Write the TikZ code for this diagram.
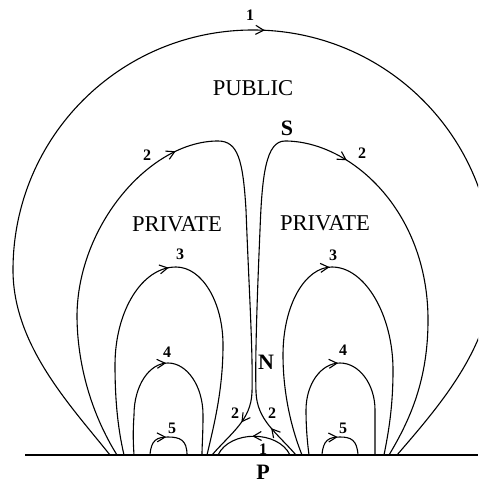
\documentclass[tikz,border=0pt]{standalone}
\usepackage{fontspec}
\setmainfont{Liberation Serif}
\usetikzlibrary{arrows.meta,decorations.markings}

\begin{document}
\begin{tikzpicture}[
    x=0.5pt, y=-0.5pt,
    fline/.style={line width=0.55pt},
    flow/.style={postaction={decorate, decoration={markings,
        mark=at position #1 with {\arrow{Straight Barb[length=4pt,width=4.5pt]}}}}},
    foot/.style={line width=1.4pt},
    region/.style={font=\fontsize{11.3}{13}\selectfont},
    ptlbl/.style={font=\fontsize{11}{13}\selectfont\bfseries},
    num/.style={font=\fontsize{8}{9}\selectfont\bfseries, inner sep=0pt}
]
\useasboundingbox (0,0) rectangle (478,485);
\clip (0,0) rectangle (478,485);

% Photosphere with the footpoint patches
\draw[fline] (25,455) -- (478,455);
\draw[foot] (110,455) -- (148,455);
\draw[foot] (188,455) -- (216,455);
\draw[foot] (292,455) -- (320,455);
\draw[foot] (360,455) -- (397,455);

% Field line 1 (outer, public)
\draw[fline, flow=0.51] (110,455) .. controls (70,405) and (13,345) .. (13,270)
    .. controls (13,137) and (120,30) .. (253,30)
    .. controls (386,30) and (493,137) .. (493,270)
    .. controls (493,345) and (440,405) .. (397,455);

% Field lines 2 (separatrices through the channel)
\draw[fline, flow=0.475, flow=0.94] (117,455) .. controls (92,415) and (77,365) .. (77,315)
    .. controls (78,225) and (150,141) .. (218,141)
    .. controls (238,141) and (243,160) .. (246,210)
    .. controls (249,290) and (253,350) .. (252,392)
    .. controls (251,420) and (232,432) .. (212,455);
\draw[fline, flow=0.05, flow=0.55] (296,455) .. controls (276,432) and (257,420) .. (256,392)
    .. controls (255,360) and (257,300) .. (260,230)
    .. controls (262,175) and (266,141) .. (285,141)
    .. controls (350,141) and (428,210) .. (428,320)
    .. controls (428,380) and (410,420) .. (389,455);

% Field line 1 (low arcade under N)
\draw[fline, flow=0.52] (290,455) .. controls (278,430) and (230,430) .. (218,455);

% Field lines 3
\draw[fline, flow=0.49] (124,455) .. controls (117,425) and (115,395) .. (115,365)
    .. controls (115,311) and (142,267) .. (176,267)
    .. controls (202,267) and (223,302) .. (223,345)
    .. controls (223,390) and (214,425) .. (207,455);
\draw[fline, flow=0.49] (302,455) .. controls (290,425) and (283,390) .. (283,355)
    .. controls (283,305) and (305,267) .. (332,267)
    .. controls (365,267) and (393,315) .. (393,370)
    .. controls (393,405) and (389,430) .. (384,455);

% Field lines 4
\draw[fline, flow=0.49] (134,455) .. controls (133,440) and (133,430) .. (134,415)
    .. controls (134,386) and (149,363) .. (168,363)
    .. controls (187,363) and (203,386) .. (203,415)
    .. controls (203,435) and (202,445) .. (202,455);
\draw[fline, flow=0.49] (309,455) .. controls (307,440) and (306,425) .. (306,410)
    .. controls (306,384) and (321,363) .. (340,363)
    .. controls (359,363) and (375,384) .. (375,410)
    .. controls (375,430) and (375,445) .. (375,455);

% Field lines 5
\draw[fline, flow=0.46] (150,455) .. controls (151,440) and (157,437) .. (168,437)
    .. controls (180,437) and (187,440) .. (187,455);
\draw[fline, flow=0.46] (322,455) .. controls (323,440) and (329,437) .. (340,437)
    .. controls (351,437) and (357,440) .. (358,455);

% Regions and points
\node[region] (public) at (253,88)  {PUBLIC};
\node[region] (privL)  at (177,224) {PRIVATE};
\node[region] (privR)  at (325,223) {PRIVATE};
\node[ptlbl] (S) at (287,128) {S};
\node[ptlbl] (N) at (266,362) {N};
\node[ptlbl] (P) at (263,472) {P};

% Line numbers
\node[num] (n1)  at (250,15)  {1};
\node[num] (n2a) at (147,155) {2};
\node[num] (n2b) at (362,153) {2};
\node[num] (n3a) at (180,254) {3};
\node[num] (n3b) at (333,255) {3};
\node[num] (n4a) at (167,352) {4};
\node[num] (n4b) at (343,350) {4};
\node[num] (n5a) at (172,428) {5};
\node[num] (n5b) at (343,428) {5};
\node[num] (n2c) at (235,413) {2};
\node[num] (n2d) at (272,413) {2};
\node[num] (n1b) at (263,449) {1};
\end{tikzpicture}
\end{document}
